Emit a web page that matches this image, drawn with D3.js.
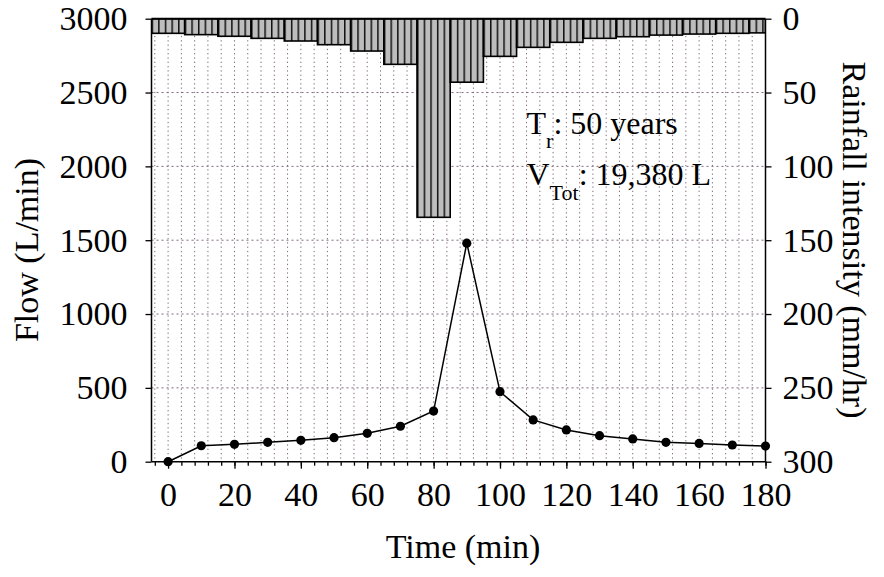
<!DOCTYPE html>
<html>
<head>
<meta charset="utf-8">
<script src="https://cdn.jsdelivr.net/npm/d3@7/dist/d3.min.js"></script>
<style>
  html, body { margin: 0; padding: 0; background: #fff; }
  svg { display: block; }
</style>
</head>
<body>
<svg id="chart" width="884" height="577"></svg>
<script>
// Time steps (min)
const time = [0, 10, 20, 30, 40, 50, 60, 70, 80, 90, 100, 110, 120, 130, 140, 150, 160, 170, 180];
// Runoff hydrograph (L/min)
const flow = [0, 108, 118, 131, 145, 163, 192, 240, 343, 1480, 474, 283, 215, 176, 154, 131, 124, 113, 106];
// Hyetograph: rainfall intensity (mm/hr)
const rain = [9.9, 10.8, 11.9, 13.3, 15.1, 17.6, 21.9, 30.9, 134.5, 43, 25.5, 19.4, 16, 13.3, 12.2, 11.1, 10.4, 9.9, 9.6];
// Axis ticks
const flowTicks = [0, 500, 1000, 1500, 2000, 2500, 3000];
const rainTicks = [0, 50, 100, 150, 200, 250, 300];
const timeTicks = [0, 20, 40, 60, 80, 100, 120, 140, 160, 180];
const timeMinor = d3.range(-4, 181, 4);

const FONT = "Liberation Serif";
const svg = d3.select("#chart");
const L = 151.5, R = 765.5, T = 18.7, B = 461.7;
const FS = 34;      // axis labels and titles
const FS_NOTE = 32; // annotation
const FS_SUB = 22;  // subscripts

const x = d3.scaleLinear().domain([-5, 180]).range([L, R]);
const yFlow = d3.scaleLinear().domain([0, 3000]).range([B, T]);
const yRain = d3.scaleLinear().domain([0, 300]).range([T, B]);

// Vertical stripe fill for the rainfall bars
const defs = svg.append("defs");
const period = (x(10) - x(0)) / 5;
const pat = defs.append("pattern")
  .attr("id", "stripes").attr("patternUnits", "userSpaceOnUse")
  .attr("x", L).attr("y", 0)
  .attr("width", period).attr("height", 10);
pat.append("rect").attr("width", period).attr("height", 10).attr("fill", "#bdbdbd");
pat.append("rect").attr("x", 0).attr("width", 1.5).attr("height", 10).attr("fill", "#111");
defs.append("clipPath").attr("id", "plotclip")
  .append("rect").attr("x", L).attr("y", T).attr("width", R - L).attr("height", B - T);

// Gridlines
const grid = svg.append("g").attr("stroke", "#7d6a7d").attr("stroke-width", 1)
  .attr("stroke-dasharray", "1.3,3");
grid.selectAll("line.v").data(timeMinor.filter(t => t < 180)).join("line")
  .attr("x1", d => x(d)).attr("x2", d => x(d)).attr("y1", T).attr("y2", B);
grid.selectAll("line.h").data(flowTicks.filter(v => v > 0 && v < 3000)).join("line")
  .attr("x1", L).attr("x2", R).attr("y1", d => yFlow(d)).attr("y2", d => yFlow(d))
  .attr("stroke-dasharray", "2,3");

// Rainfall bars hanging from the top
const bars = svg.append("g").attr("clip-path", "url(#plotclip)");
bars.selectAll("rect").data(time.map((t, i) => ({ t, v: rain[i] }))).join("rect")
  .attr("x", d => x(d.t - 5))
  .attr("width", d => x(Math.min(d.t + 5, 180)) - x(d.t - 5))
  .attr("y", T)
  .attr("height", d => yRain(d.v) - T)
  .attr("fill", "url(#stripes)")
  .attr("stroke", "#000").attr("stroke-width", 1.6);

// Flow line and markers
svg.append("path")
  .datum(time.map((t, i) => [t, flow[i]]))
  .attr("fill", "none").attr("stroke", "#000").attr("stroke-width", 1.5)
  .attr("d", d3.line().x(d => x(d[0])).y(d => yFlow(d[1])));
svg.append("g").selectAll("circle").data(time.map((t, i) => [t, flow[i]])).join("circle")
  .attr("cx", d => x(d[0])).attr("cy", d => yFlow(d[1])).attr("r", 4.6).attr("fill", "#000");

// Top edge of the plot
svg.append("line").attr("x1", L).attr("x2", R).attr("y1", T).attr("y2", T)
  .attr("stroke", "#000").attr("stroke-width", 2);

// Axes
const left = svg.append("g").attr("transform", `translate(${L},0)`)
  .call(d3.axisLeft(yFlow).tickValues(flowTicks).tickSize(6).tickPadding(18).tickFormat(d3.format("d")));
const right = svg.append("g").attr("transform", `translate(${R},0)`)
  .call(d3.axisRight(yRain).tickValues(rainTicks).tickSize(6).tickPadding(11).tickFormat(d3.format("d")));
const bottomMinor = svg.append("g").attr("transform", `translate(0,${B})`)
  .call(d3.axisBottom(x).tickValues(timeMinor).tickSize(4).tickFormat(""));
const bottom = svg.append("g").attr("transform", `translate(0,${B})`)
  .call(d3.axisBottom(x).tickValues(timeTicks).tickSize(7).tickPadding(13).tickFormat(d3.format("d")));
bottomMinor.select(".domain").remove();

[left, right, bottom, bottomMinor].forEach(g => {
  g.attr("font-family", FONT).attr("font-size", FS);
  g.selectAll(".domain").attr("stroke", "#000").attr("stroke-width", 1.5);
  g.selectAll(".tick line").attr("stroke", "#000").attr("stroke-width", 1.3);
  g.selectAll("text").attr("fill", "#000");
});
left.select(".domain").attr("d", `M0,${B}V${T}`);
right.select(".domain").attr("d", `M0,${B}V${T}`);
bottom.select(".domain").attr("d", `M${L},0H${R}`);

// Axis titles
svg.append("text").attr("transform", "translate(38,250) rotate(-90)")
  .attr("text-anchor", "middle").attr("font-family", FONT).attr("font-size", FS).text("Flow (L/min)");
svg.append("text").attr("transform", "translate(843,240) rotate(90)")
  .attr("text-anchor", "middle").attr("font-family", FONT).attr("font-size", FS).text("Rainfall intensity (mm/hr)");
svg.append("text").attr("x", 463).attr("y", 558)
  .attr("text-anchor", "middle").attr("font-family", FONT).attr("font-size", FS).text("Time (min)");

// Annotation
const a1 = svg.append("text").attr("x", 526.5).attr("y", 133.5).attr("font-family", FONT).attr("font-size", FS_NOTE);
a1.append("tspan").text("T");
a1.append("tspan").attr("dy", 14.5).attr("font-size", FS_SUB).text("r");
a1.append("tspan").attr("dy", -14.5).text(": 50 years");
const a2 = svg.append("text").attr("x", 526.5).attr("y", 185).attr("font-family", FONT).attr("font-size", FS_NOTE);
a2.append("tspan").text("V");
a2.append("tspan").attr("dy", 15).attr("font-size", FS_SUB).text("Tot");
a2.append("tspan").attr("dy", -15).text(": 19,380 L");
</script>
</body>
</html>
